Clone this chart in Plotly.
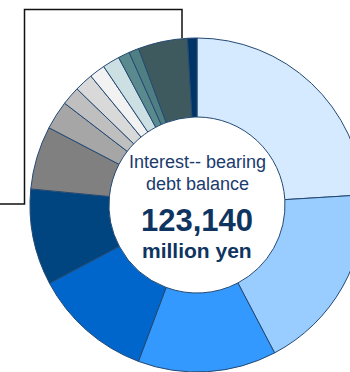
import plotly.graph_objects as go

# Data (million yen); total 123,140
categories = ["A", "B", "C", "D", "E", "F", "G", "H", "I", "J", "K", "L", "M", "N", "O"]
values = [29590, 22510, 16490, 14200, 11460, 7530, 3420, 2220, 2220, 1880, 2050, 1370, 1200, 5880, 1120]
colors = ["#D5EAFF", "#99CCFF", "#3399FF", "#0066CC", "#00457F",
          "#808080", "#A6A6A6", "#BFBFBF", "#D9D9D9", "#F2F2F2",
          "#CCE0E3", "#5B8A8E", "#4F7F83", "#3E5A5F", "#003366"]
center_lines = ["Interest-- bearing", "debt balance", "123,140", "million yen"]

W, H = 394, 372

def px(x):
    return x / W

def py(y):
    return 1 - y / H

fig = go.Figure(go.Pie(
    labels=categories,
    values=values,
    sort=False,
    direction="clockwise",
    rotation=0,
    hole=0.527,
    textinfo="none",
    hoverinfo="label+value",
    marker=dict(colors=colors, line=dict(color="#244A73", width=1)),
    domain=dict(x=[0, 1], y=[0, (H - 38) / H]),
    showlegend=False,
))

ann = [
    (center_lines[0], 162, 18, False, "#1B3A6E"),
    (center_lines[1], 184, 18, False, "#1B3A6E"),
    (center_lines[2], 220, 31, True, "#0E345F"),
    (center_lines[3], 251, 21, True, "#0E345F"),
]
for text, y, size, bold, col in ann:
    fig.add_annotation(
        x=px(197), y=py(y), xref="paper", yref="paper",
        text=f"<b>{text}</b>" if bold else text,
        showarrow=False, xanchor="center", yanchor="middle",
        font=dict(family="Liberation Sans, Arial, sans-serif", size=size, color=col),
    )

path = (f"M {px(0)},{py(204)} L {px(24.5)},{py(204)} L {px(24.5)},{py(9.5)} "
        f"L {px(182)},{py(9.5)} L {px(182)},{py(38)}")
fig.add_shape(type="path", path=path, xref="paper", yref="paper",
              line=dict(color="#111111", width=1.5))

fig.update_layout(
    width=W, height=H,
    margin=dict(l=0, r=0, t=0, b=0),
    paper_bgcolor="white", plot_bgcolor="white",
)

fig.write_html(
    "out.html",
    config={"displayModeBar": False},
    post_script="document.body.style.margin='0';document.body.style.overflow='hidden';document.documentElement.style.overflow='hidden';",
)
